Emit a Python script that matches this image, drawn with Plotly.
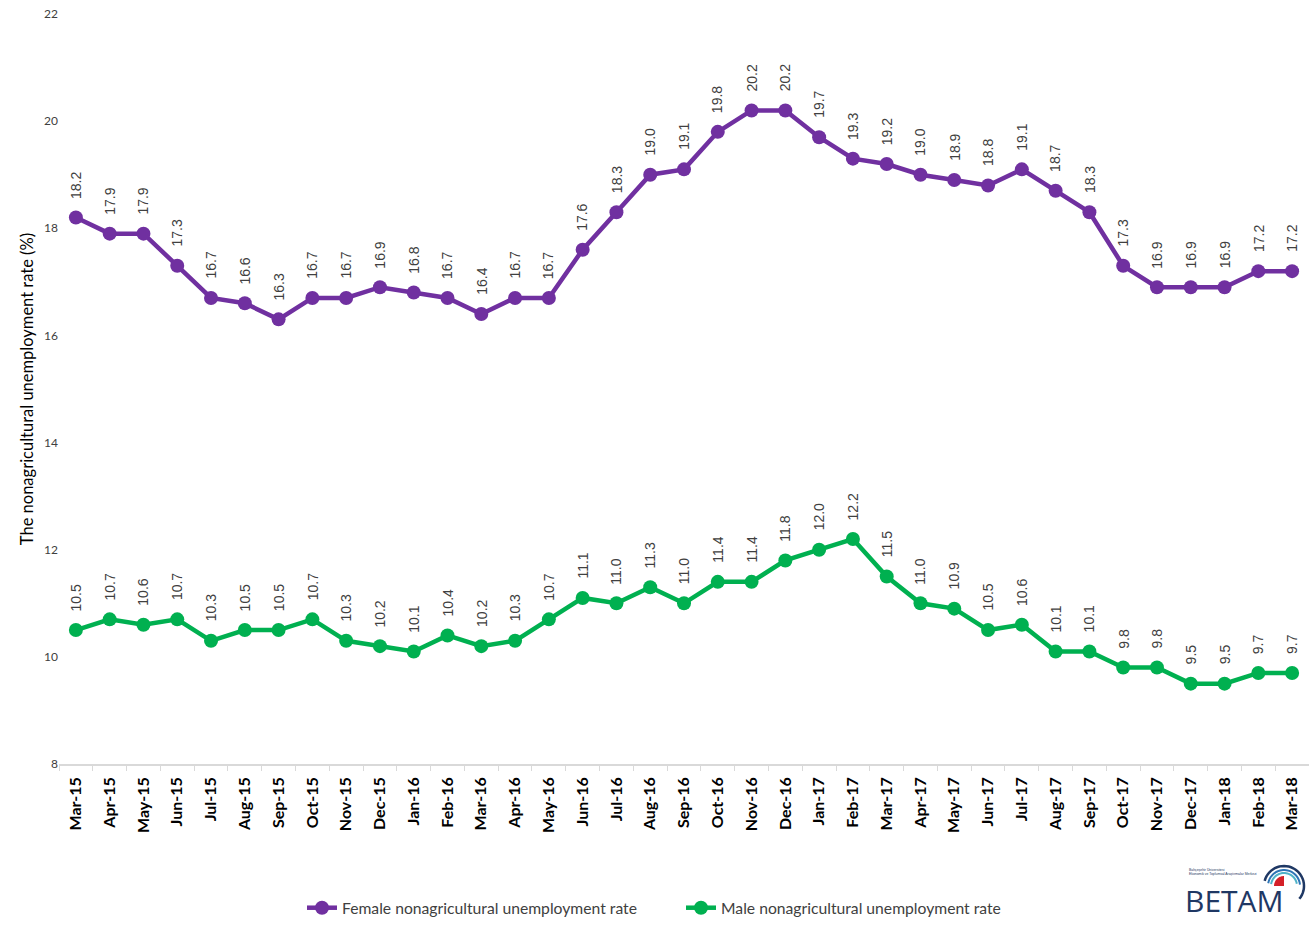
import math
import plotly.graph_objects as go

months = ["Mar-15", "Apr-15", "May-15", "Jun-15", "Jul-15", "Aug-15", "Sep-15", "Oct-15",
          "Nov-15", "Dec-15", "Jan-16", "Feb-16", "Mar-16", "Apr-16", "May-16", "Jun-16",
          "Jul-16", "Aug-16", "Sep-16", "Oct-16", "Nov-16", "Dec-16", "Jan-17", "Feb-17",
          "Mar-17", "Apr-17", "May-17", "Jun-17", "Jul-17", "Aug-17", "Sep-17", "Oct-17",
          "Nov-17", "Dec-17", "Jan-18", "Feb-18", "Mar-18"]

female = [18.2, 17.9, 17.9, 17.3, 16.7, 16.6, 16.3, 16.7, 16.7, 16.9, 16.8, 16.7, 16.4,
          16.7, 16.7, 17.6, 18.3, 19.0, 19.1, 19.8, 20.2, 20.2, 19.7, 19.3, 19.2, 19.0,
          18.9, 18.8, 19.1, 18.7, 18.3, 17.3, 16.9, 16.9, 16.9, 17.2, 17.2]

male = [10.5, 10.7, 10.6, 10.7, 10.3, 10.5, 10.5, 10.7, 10.3, 10.2, 10.1, 10.4, 10.2,
        10.3, 10.7, 11.1, 11.0, 11.3, 11.0, 11.4, 11.4, 11.8, 12.0, 12.2, 11.5, 11.0,
        10.9, 10.5, 10.6, 10.1, 10.1, 9.8, 9.8, 9.5, 9.5, 9.7, 9.7]

purple = "#7030A0"
green = "#00B050"
navy = "#1F3864"

W, H = 1309, 926
L, R, T, B = 59, 0, 14, 162


def px(x, y):
    # pixel position -> paper coordinates (for logo / legend placement)
    return (x - L) / (W - L - R), (H - B - y) / (H - T - B)


def arc_path(cx, cy, r, a0, a1, wedge=False):
    pts = []
    n = 30
    for i in range(n + 1):
        a = math.radians(a0 + (a1 - a0) * i / n)
        pts.append(px(cx + r * math.cos(a), cy - r * math.sin(a)))
    if wedge:
        pts = [px(cx, cy)] + pts
    d = "M " + " L ".join(f"{a:.5f},{b:.5f}" for a, b in pts)
    return d + (" Z" if wedge else "")


fig = go.Figure()
fig.add_trace(go.Scatter(x=months, y=female, mode="lines+markers",
                         name="Female nonagricultural unemployment rate",
                         line=dict(color=purple, width=4.5),
                         marker=dict(color=purple, size=14)))
fig.add_trace(go.Scatter(x=months, y=male, mode="lines+markers",
                         name="Male nonagricultural unemployment rate",
                         line=dict(color=green, width=4.5),
                         marker=dict(color=green, size=14)))

# rotated data labels
for series in (female, male):
    for m, v in zip(months, series):
        fig.add_annotation(x=m, y=v, text=f"{v:.1f}", textangle=-90, showarrow=False,
                           yanchor="bottom", yshift=17,
                           font=dict(family="Liberation Sans", size=14, color="#404040"))

# BETAM logo
bx, by = px(1234, 900)
fig.add_annotation(xref="paper", yref="paper", x=bx, y=by, text="BETAM", showarrow=False,
                   xanchor="center", yanchor="middle",
                   font=dict(family="Open Sans", size=30, color=navy))
sx, sy = px(1187, 872)
fig.add_annotation(xref="paper", yref="paper", x=sx, y=sy,
                   text="Bahçeşehir Üniversitesi<br>Ekonomik ve Toplumsal Araştırmalar Merkezi",
                   showarrow=False, xanchor="left", yanchor="middle", align="left",
                   font=dict(family="Liberation Sans", size=3.4, color=navy))
fig.add_shape(type="path", xref="paper", yref="paper", layer="above",
              path=arc_path(1284, 886, 20, 165, -40), line=dict(color=navy, width=2.5))
fig.add_shape(type="path", xref="paper", yref="paper", layer="above",
              path=arc_path(1284, 886, 16, 170, 5), line=dict(color="#2E75B6", width=2))
fig.add_shape(type="path", xref="paper", yref="paper", layer="above",
              path=arc_path(1284, 886, 13, 172, 10), line=dict(color="#4FB3C8", width=2))
fig.add_shape(type="path", xref="paper", yref="paper", layer="above",
              path=arc_path(1284, 886, 10, 90, 180, wedge=True),
              line=dict(color="#D42027", width=0), fillcolor="#D42027")

lx, ly = px(302, 925)
fig.update_layout(
    width=W, height=H,
    margin=dict(l=L, r=R, t=T, b=B),
    paper_bgcolor="white", plot_bgcolor="white",
    font=dict(family="Lato", color="#404040"),
    showlegend=True,
    legend=dict(orientation="h", x=lx, xanchor="left", y=ly, yanchor="bottom",
                entrywidth=334, entrywidthmode="pixels",
                font=dict(family="Lato", size=15.7, color="#404040")),
    xaxis=dict(type="category", tickangle=-90, showgrid=False, automargin=False,
               showline=True, linecolor="#D9D9D9", linewidth=1.5,
               ticks="outside", tickson="boundaries", ticklen=5, tickcolor="#D9D9D9",
               ticklabelstandoff=5,
               tickfont=dict(family="Lato", size=16, color="black", weight="bold"),
               range=[-0.5, 36.5]),
    yaxis=dict(range=[8, 22], dtick=2, showgrid=False, zeroline=False, showline=False,
               ticks="", automargin=False,
               tickfont=dict(family="Lato", size=12, color="#404040"),
               title=dict(text="The nonagricultural unemployment rate (%)", standoff=6,
                          font=dict(family="Lato", size=16.5, color="black"))),
)

fig.write_html("out.html", config=dict(displayModeBar=False),
               post_script="document.body.style.margin='0';")
